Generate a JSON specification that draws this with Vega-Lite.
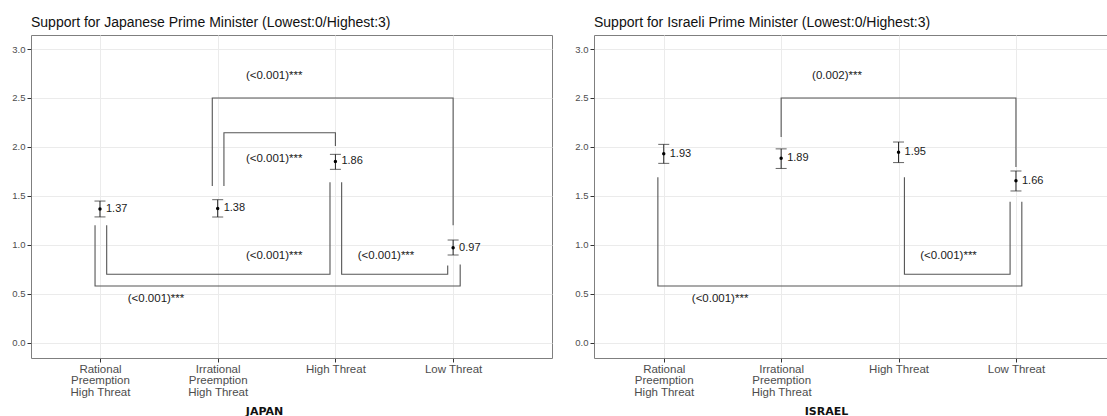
{
  "$schema": "https://vega.github.io/schema/vega-lite/v6.json",
  "padding": {"left": 11, "top": 15, "right": 0, "bottom": 0},
  "autosize": {"type": "pad"},
  "spacing": 21,
  "background": "white",
  "config": {
    "font": "Liberation Sans",
    "view": {"stroke": "#7F7F7F", "strokeWidth": 1},
    "title": {"fontSize": 14, "fontWeight": "normal", "anchor": "start", "frame": "group", "color": "#111111", "offset": 5, "font": "Liberation Sans"},
    "text": {"font": "Liberation Sans"}
  },
  "datasets": {
    "jp_points": [
      {"x": 1, "y": 1.365, "lo": 1.285, "hi": 1.447, "label": "1.37"},
      {"x": 2, "y": 1.372, "lo": 1.284, "hi": 1.461, "label": "1.38"},
      {"x": 3, "y": 1.852, "lo": 1.771, "hi": 1.924, "label": "1.86"},
      {"x": 4, "y": 0.970, "lo": 0.896, "hi": 1.049, "label": "0.97"}
    ],
    "il_points": [
      {"x": 1, "y": 1.930, "lo": 1.832, "hi": 2.026, "label": "1.93"},
      {"x": 2, "y": 1.885, "lo": 1.780, "hi": 1.980, "label": "1.89"},
      {"x": 3, "y": 1.945, "lo": 1.840, "hi": 2.050, "label": "1.95"},
      {"x": 4, "y": 1.655, "lo": 1.550, "hi": 1.754, "label": "1.66"}
    ],
    "jp_brackets": [
      {"id": "A", "o": 1, "x": 1.954, "y": 1.6}, {"id": "A", "o": 2, "x": 1.954, "y": 2.5}, {"id": "A", "o": 3, "x": 4.0, "y": 2.5}, {"id": "A", "o": 4, "x": 4.0, "y": 1.2},
      {"id": "B", "o": 1, "x": 2.053, "y": 1.6}, {"id": "B", "o": 2, "x": 2.053, "y": 2.145}, {"id": "B", "o": 3, "x": 3.0, "y": 2.145}, {"id": "B", "o": 4, "x": 3.0, "y": 2.01},
      {"id": "C", "o": 1, "x": 1.057, "y": 1.2}, {"id": "C", "o": 2, "x": 1.057, "y": 0.70}, {"id": "C", "o": 3, "x": 2.954, "y": 0.70}, {"id": "C", "o": 4, "x": 2.954, "y": 1.64},
      {"id": "D", "o": 1, "x": 3.053, "y": 1.64}, {"id": "D", "o": 2, "x": 3.053, "y": 0.70}, {"id": "D", "o": 3, "x": 3.954, "y": 0.70}, {"id": "D", "o": 4, "x": 3.954, "y": 0.79},
      {"id": "E", "o": 1, "x": 0.958, "y": 1.2}, {"id": "E", "o": 2, "x": 0.958, "y": 0.58}, {"id": "E", "o": 3, "x": 4.06, "y": 0.58}, {"id": "E", "o": 4, "x": 4.06, "y": 0.80}
    ],
    "il_brackets": [
      {"id": "A", "o": 1, "x": 2.0, "y": 2.10}, {"id": "A", "o": 2, "x": 2.0, "y": 2.5}, {"id": "A", "o": 3, "x": 4.0, "y": 2.5}, {"id": "A", "o": 4, "x": 4.0, "y": 1.795},
      {"id": "B", "o": 1, "x": 3.05, "y": 1.69}, {"id": "B", "o": 2, "x": 3.05, "y": 0.70}, {"id": "B", "o": 3, "x": 3.95, "y": 0.70}, {"id": "B", "o": 4, "x": 3.95, "y": 1.44},
      {"id": "C", "o": 1, "x": 0.95, "y": 1.69}, {"id": "C", "o": 2, "x": 0.95, "y": 0.58}, {"id": "C", "o": 3, "x": 4.05, "y": 0.58}, {"id": "C", "o": 4, "x": 4.05, "y": 1.44}
    ],
    "jp_labels": [
      {"x": 2.48, "y": 2.72, "label": "(<0.001)***"},
      {"x": 2.48, "y": 1.88, "label": "(<0.001)***"},
      {"x": 2.48, "y": 0.886, "label": "(<0.001)***"},
      {"x": 3.43, "y": 0.886, "label": "(<0.001)***"},
      {"x": 1.476, "y": 0.443, "label": "(<0.001)***"}
    ],
    "il_labels": [
      {"x": 2.476, "y": 2.72, "label": "(0.002)***"},
      {"x": 3.426, "y": 0.886, "label": "(<0.001)***"},
      {"x": 1.48, "y": 0.443, "label": "(<0.001)***"}
    ]
  },
  "hconcat": [
    {
      "title": "Support for Japanese Prime Minister (Lowest:0/Highest:3)",
      "width": 521,
      "height": 323,
      "layer": [
        {
          "data": {"name": "jp_brackets"},
          "mark": {"type": "line", "color": "#555555", "strokeWidth": 1.1},
          "encoding": {
            "x": {"field": "x", "type": "quantitative", "title": "JAPAN", "scale": {"domain": [0.414, 4.84], "nice": false, "zero": false},
              "axis": {"values": [1, 2, 3, 4], "labelExpr": "datum.value == 1 ? ['Rational','Preemption','High Threat'] : datum.value == 2 ? ['Irrational','Preemption','High Threat'] : datum.value == 3 ? 'High Threat' : 'Low Threat'", "domain": false, "tickSize": 4, "tickColor": "#333333", "labelFontSize": 11.5, "labelLineHeight": 11.5, "labelColor": "#4D4D4D", "labelBaseline": "top", "labelPadding": 1, "labelFlush": false, "labelOverlap": false, "gridColor": "#EBEBEB", "titleFont": "DejaVu Sans", "titleFontWeight": "bold", "titleFontSize": 11, "titleColor": "#111111", "titleX": 233, "titleAlign": "center", "titlePadding": 8}},
            "y": {"field": "y", "type": "quantitative", "title": null, "scale": {"domain": [-0.156, 3.143], "nice": false, "zero": false},
              "axis": {"values": [0, 0.25, 0.5, 0.75, 1, 1.25, 1.5, 1.75, 2, 2.25, 2.5, 2.75, 3], "labelExpr": "datum.value % 0.5 == 0 ? format(datum.value, '.1f') : ''", "tickColor": {"condition": {"test": "datum.value % 0.5 != 0", "value": "transparent"}, "value": "#333333"}, "gridColor": {"condition": {"test": "datum.value % 0.5 != 0", "value": "#F3F3F3"}, "value": "#EBEBEB"}, "domain": false, "tickSize": 4, "labelPadding": 2, "labelFontSize": 9.5, "labelColor": "#4D4D4D"}},
            "detail": {"field": "id"},
            "order": {"field": "o"}
          }
        },
        {
          "data": {"name": "jp_points"},
          "mark": {"type": "rule", "color": "#222222", "strokeWidth": 1},
          "encoding": {
            "x": {"field": "x", "type": "quantitative", "title": "JAPAN", "scale": {"domain": [0.414, 4.84], "nice": false, "zero": false}},
            "y": {"field": "lo", "type": "quantitative", "title": null, "scale": {"domain": [-0.156, 3.143], "nice": false, "zero": false}},
            "y2": {"field": "hi"}
          }
        },
        {
          "data": {"name": "jp_points"},
          "mark": {"type": "tick", "orient": "horizontal", "color": "#222222", "size": 11, "thickness": 1},
          "encoding": {
            "x": {"field": "x", "type": "quantitative", "title": "JAPAN", "scale": {"domain": [0.414, 4.84], "nice": false, "zero": false}},
            "y": {"field": "lo", "type": "quantitative", "title": null, "scale": {"domain": [-0.156, 3.143], "nice": false, "zero": false}}
          }
        },
        {
          "data": {"name": "jp_points"},
          "mark": {"type": "tick", "orient": "horizontal", "color": "#222222", "size": 11, "thickness": 1},
          "encoding": {
            "x": {"field": "x", "type": "quantitative", "title": "JAPAN", "scale": {"domain": [0.414, 4.84], "nice": false, "zero": false}},
            "y": {"field": "hi", "type": "quantitative", "title": null, "scale": {"domain": [-0.156, 3.143], "nice": false, "zero": false}}
          }
        },
        {
          "data": {"name": "jp_points"},
          "mark": {"type": "circle", "color": "#000000", "size": 12, "opacity": 1},
          "encoding": {
            "x": {"field": "x", "type": "quantitative", "title": "JAPAN", "scale": {"domain": [0.414, 4.84], "nice": false, "zero": false}},
            "y": {"field": "y", "type": "quantitative", "title": null, "scale": {"domain": [-0.156, 3.143], "nice": false, "zero": false}}
          }
        },
        {
          "data": {"name": "jp_points"},
          "mark": {"type": "text", "align": "left", "baseline": "middle", "dx": 6, "fontSize": 11, "color": "#1A1A1A"},
          "encoding": {
            "x": {"field": "x", "type": "quantitative", "title": "JAPAN", "scale": {"domain": [0.414, 4.84], "nice": false, "zero": false}},
            "y": {"field": "y", "type": "quantitative", "title": null, "scale": {"domain": [-0.156, 3.143], "nice": false, "zero": false}},
            "text": {"field": "label"}
          }
        },
        {
          "data": {"name": "jp_labels"},
          "mark": {"type": "text", "align": "center", "baseline": "middle", "fontSize": 11.5, "color": "#1A1A1A"},
          "encoding": {
            "x": {"field": "x", "type": "quantitative", "title": "JAPAN", "scale": {"domain": [0.414, 4.84], "nice": false, "zero": false}},
            "y": {"field": "y", "type": "quantitative", "title": null, "scale": {"domain": [-0.156, 3.143], "nice": false, "zero": false}},
            "text": {"field": "label"}
          }
        }
      ]
    },
    {
      "title": "Support for Israeli Prime Minister (Lowest:0/Highest:3)",
      "width": 514,
      "height": 323,
      "layer": [
        {
          "data": {"name": "il_brackets"},
          "mark": {"type": "line", "color": "#555555", "strokeWidth": 1.1},
          "encoding": {
            "x": {"field": "x", "type": "quantitative", "title": "ISRAEL", "scale": {"domain": [0.406, 4.784], "nice": false, "zero": false},
              "axis": {"values": [1, 2, 3, 4], "labelExpr": "datum.value == 1 ? ['Rational','Preemption','High Threat'] : datum.value == 2 ? ['Irrational','Preemption','High Threat'] : datum.value == 3 ? 'High Threat' : 'Low Threat'", "domain": false, "tickSize": 4, "tickColor": "#333333", "labelFontSize": 11.5, "labelLineHeight": 11.5, "labelColor": "#4D4D4D", "labelBaseline": "top", "labelPadding": 1, "labelFlush": false, "labelOverlap": false, "gridColor": "#EBEBEB", "titleFont": "DejaVu Sans", "titleFontWeight": "bold", "titleFontSize": 11, "titleColor": "#111111", "titleX": 232, "titleAlign": "center", "titlePadding": 8}},
            "y": {"field": "y", "type": "quantitative", "title": null, "scale": {"domain": [-0.156, 3.143], "nice": false, "zero": false},
              "axis": {"values": [0, 0.25, 0.5, 0.75, 1, 1.25, 1.5, 1.75, 2, 2.25, 2.5, 2.75, 3], "labelExpr": "datum.value % 0.5 == 0 ? format(datum.value, '.1f') : ''", "tickColor": {"condition": {"test": "datum.value % 0.5 != 0", "value": "transparent"}, "value": "#333333"}, "gridColor": {"condition": {"test": "datum.value % 0.5 != 0", "value": "#F3F3F3"}, "value": "#EBEBEB"}, "domain": false, "tickSize": 4, "labelPadding": 2, "labelFontSize": 9.5, "labelColor": "#4D4D4D"}},
            "detail": {"field": "id"},
            "order": {"field": "o"}
          }
        },
        {
          "data": {"name": "il_points"},
          "mark": {"type": "rule", "color": "#222222", "strokeWidth": 1},
          "encoding": {
            "x": {"field": "x", "type": "quantitative", "title": "ISRAEL", "scale": {"domain": [0.406, 4.784], "nice": false, "zero": false}},
            "y": {"field": "lo", "type": "quantitative", "title": null, "scale": {"domain": [-0.156, 3.143], "nice": false, "zero": false}},
            "y2": {"field": "hi"}
          }
        },
        {
          "data": {"name": "il_points"},
          "mark": {"type": "tick", "orient": "horizontal", "color": "#222222", "size": 11, "thickness": 1},
          "encoding": {
            "x": {"field": "x", "type": "quantitative", "title": "ISRAEL", "scale": {"domain": [0.406, 4.784], "nice": false, "zero": false}},
            "y": {"field": "lo", "type": "quantitative", "title": null, "scale": {"domain": [-0.156, 3.143], "nice": false, "zero": false}}
          }
        },
        {
          "data": {"name": "il_points"},
          "mark": {"type": "tick", "orient": "horizontal", "color": "#222222", "size": 11, "thickness": 1},
          "encoding": {
            "x": {"field": "x", "type": "quantitative", "title": "ISRAEL", "scale": {"domain": [0.406, 4.784], "nice": false, "zero": false}},
            "y": {"field": "hi", "type": "quantitative", "title": null, "scale": {"domain": [-0.156, 3.143], "nice": false, "zero": false}}
          }
        },
        {
          "data": {"name": "il_points"},
          "mark": {"type": "circle", "color": "#000000", "size": 12, "opacity": 1},
          "encoding": {
            "x": {"field": "x", "type": "quantitative", "title": "ISRAEL", "scale": {"domain": [0.406, 4.784], "nice": false, "zero": false}},
            "y": {"field": "y", "type": "quantitative", "title": null, "scale": {"domain": [-0.156, 3.143], "nice": false, "zero": false}}
          }
        },
        {
          "data": {"name": "il_points"},
          "mark": {"type": "text", "align": "left", "baseline": "middle", "dx": 6, "fontSize": 11, "color": "#1A1A1A"},
          "encoding": {
            "x": {"field": "x", "type": "quantitative", "title": "ISRAEL", "scale": {"domain": [0.406, 4.784], "nice": false, "zero": false}},
            "y": {"field": "y", "type": "quantitative", "title": null, "scale": {"domain": [-0.156, 3.143], "nice": false, "zero": false}},
            "text": {"field": "label"}
          }
        },
        {
          "data": {"name": "il_labels"},
          "mark": {"type": "text", "align": "center", "baseline": "middle", "fontSize": 11.5, "color": "#1A1A1A"},
          "encoding": {
            "x": {"field": "x", "type": "quantitative", "title": "ISRAEL", "scale": {"domain": [0.406, 4.784], "nice": false, "zero": false}},
            "y": {"field": "y", "type": "quantitative", "title": null, "scale": {"domain": [-0.156, 3.143], "nice": false, "zero": false}},
            "text": {"field": "label"}
          }
        }
      ]
    }
  ]
}
